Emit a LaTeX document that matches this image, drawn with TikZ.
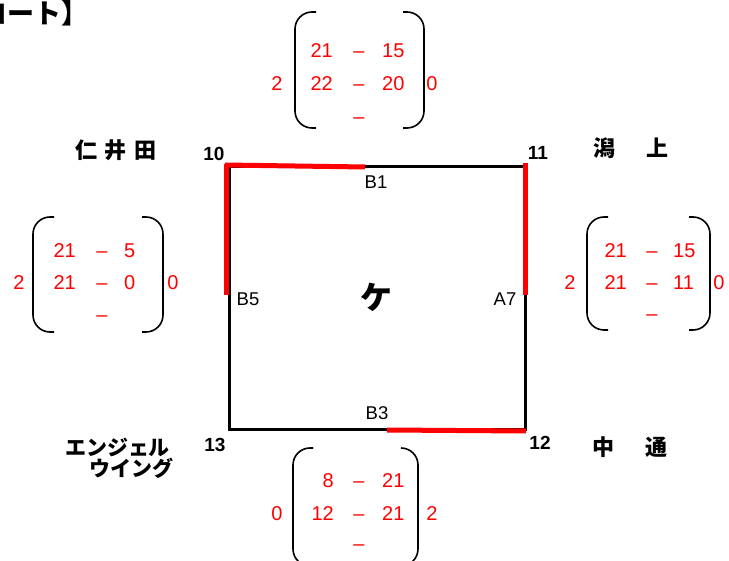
\documentclass[tikz,border=0pt]{standalone}
\usepackage{fontspec}
\setmainfont{Liberation Sans}
\newfontfamily\jp{Noto Sans CJK JP}
\begin{document}
\begin{tikzpicture}[x=1pt,y=-1pt,
  num/.style={text=red,font=\fontsize{20}{24}\selectfont,inner sep=0pt,text height=14.3pt,text depth=0pt},
  paren/.style={draw=black,line width=1.6pt,rounded corners=17pt},
  edge/.style={draw=black,line width=3pt},
  hot/.style={draw=red,line width=5pt},
  corner/.style={font=\bfseries\fontsize{19}{21}\selectfont,inner sep=0pt},
  side/.style={font=\fontsize{18.5}{21}\selectfont,inner sep=0pt},
  place/.style={font=\jp\bfseries\fontsize{22}{24}\selectfont,inner sep=0pt}]
\useasboundingbox (0,0) rectangle (729,561);
% title (cut off at the left, as in the reference)
\node[font=\jp\bfseries\fontsize{27}{30}\selectfont,inner sep=0pt,anchor=base west] (title) at (-47,24) {【コート】};
% square
\coordinate (c10) at (229,167);
\coordinate (c11) at (525,167);
\coordinate (c12) at (525,430);
\coordinate (c13) at (229,430);
\draw[edge,line join=miter] (c10) -- (c11) -- (c12) -- (c13) -- cycle;
\coordinate (rt1) at (225,165);
\coordinate (rt2) at (365,167);
\coordinate (rl1) at (226,164);
\coordinate (rl2) at (226,295);
\coordinate (rr1) at (525,163);
\coordinate (rr2) at (525,295);
\coordinate (rb1) at (387,430);
\coordinate (rb2) at (526,431);
\draw[hot] (rt1) -- (rt2);
\draw[hot] (rl1) -- (rl2);
\draw[hot] (rr1) -- (rr2);
\draw[hot] (rb1) -- (rb2);
% corner numbers
\node[corner] (n10) at (214,154) {10};
\node[corner] (n11) at (538,153) {11};
\node[corner] (n13) at (215,445) {13};
\node[corner] (n12) at (540,443) {12};
% side labels
\node[side] (b1) at (376,182) {B1};
\node[side] (b5) at (248,299) {B5};
\node[side] (a7) at (505,299) {A7};
\node[side] (b3) at (377,413) {B3};
\node[font=\jp\bfseries\fontsize{32}{34}\selectfont,inner sep=0pt] (ke) at (376,297) {ケ};
% place names
\node[place] (nii) at (116,150) {仁\hspace{8pt}井\hspace{8pt}田};
\node[place] (kata) at (630.5,148) {潟\hspace{31pt}上};
\node[place] (naka) at (630,447) {中\hspace{32pt}通};
\node[place,font=\jp\bfseries\fontsize{21}{24}\selectfont] (ang1) at (117.5,447) {エンジェル};
\node[place,font=\jp\bfseries\fontsize{21}{24}\selectfont] (ang2) at (131,468) {ウイング};
% top matrix
\draw[paren] (316,12) -- (295,12) -- (295,128) -- (316,128);
\draw[paren] (403,12) -- (424,12) -- (424,128) -- (403,128);
\node[num,anchor=east] (t11) at (333,50) {21};
\node[num] (t12) at (359,50) {--};
\node[num,anchor=west] (t13) at (382,50) {15};
\node[num,anchor=east] (t21) at (333,83) {22};
\node[num] (t22) at (359,83) {--};
\node[num,anchor=west] (t23) at (382,83) {20};
\node[num] (t32) at (359,116) {--};
\node[num] (tl) at (277,83) {2};
\node[num] (tr) at (432,83) {0};
% left matrix
\draw[paren] (54,217) -- (33,217) -- (33,332) -- (54,332);
\draw[paren] (142,217) -- (163,217) -- (163,332) -- (142,332);
\node[num,anchor=east] (l11) at (76,250) {21};
\node[num] (l12) at (102,250) {--};
\node[num,anchor=west] (l13) at (124,250) {5};
\node[num,anchor=east] (l21) at (76,282) {21};
\node[num] (l22) at (102,282) {--};
\node[num,anchor=west] (l23) at (124,282) {0};
\node[num] (l32) at (102,314) {--};
\node[num] (ll) at (19,282) {2};
\node[num] (lr) at (173,282) {0};
% right matrix
\draw[paren] (608,217) -- (587,217) -- (587,330) -- (608,330);
\draw[paren] (689,217) -- (710,217) -- (710,330) -- (689,330);
\node[num,anchor=east] (r11) at (627,250) {21};
\node[num] (r12) at (652,250) {--};
\node[num,anchor=west] (r13) at (673,250) {15};
\node[num,anchor=east] (r21) at (627,282) {21};
\node[num] (r22) at (652,282) {--};
\node[num,anchor=west] (r23) at (673,282) {11};
\node[num] (r32) at (652,313) {--};
\node[num] (rl) at (570,282) {2};
\node[num] (rr) at (719,282) {0};
% bottom matrix
\draw[paren] (313,448) -- (293,448) -- (293,566) -- (313,566);
\draw[paren] (401,448) -- (418,448) -- (418,566) -- (401,566);
\node[num,anchor=east] (m11) at (334,480) {8};
\node[num] (m12) at (359,480) {--};
\node[num,anchor=west] (m13) at (382,480) {21};
\node[num,anchor=east] (m21) at (334,513) {12};
\node[num] (m22) at (359,513) {--};
\node[num,anchor=west] (m23) at (382,513) {21};
\node[num] (m32) at (359,543) {--};
\node[num] (ml) at (277,513) {0};
\node[num] (mr) at (432,513) {2};
\end{tikzpicture}
\end{document}
